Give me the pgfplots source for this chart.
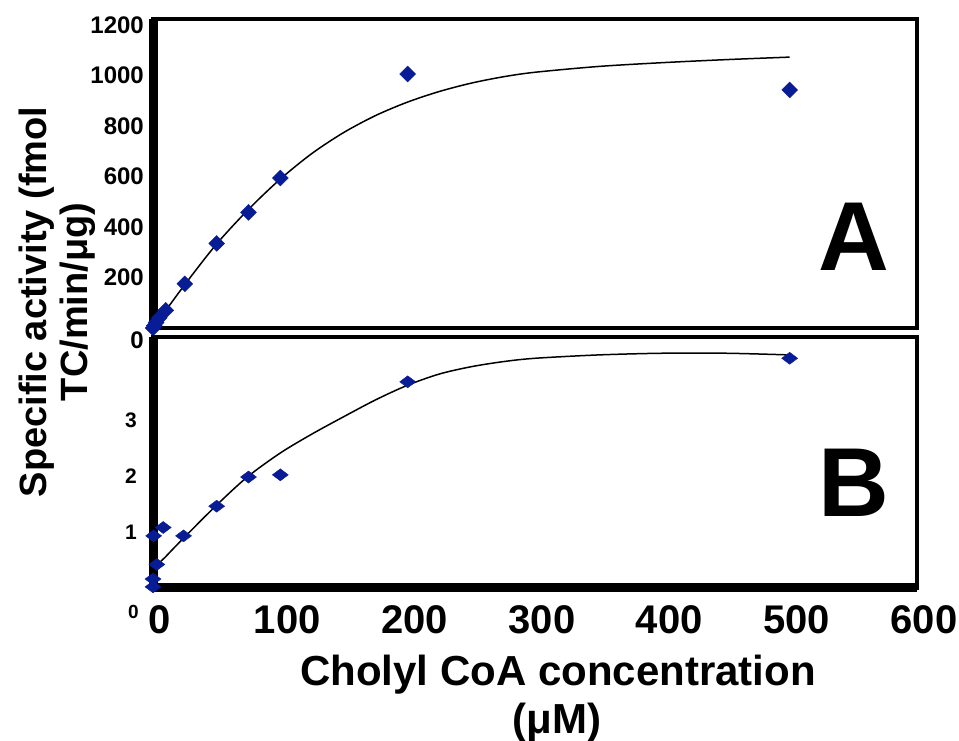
\documentclass[border=0pt]{standalone}
\usepackage{fontspec}
\setmainfont{Liberation Sans}
\usepackage{pgfplots}
\pgfplotsset{compat=1.18}
\definecolor{markblue}{RGB}{8,28,150}

\pgfplotsset{
  panel/.style={
    anchor=south west, scale only axis, width=764pt,
    xmin=0, xmax=600, ymin=0, clip=false,
    axis line style={line width=4.5pt},
    major tick length=0pt,
  },
  pts/.style={only marks, mark=square*, mark size=5.6pt,
    mark options={rotate=45, draw=markblue, fill=markblue}},
  fit/.style={black, line width=1.5pt, smooth, no marks},
}

\begin{document}
\begin{tikzpicture}[x=1pt,y=1pt]
\path[use as bounding box] (0,0) rectangle (959,741);

% panel A
\begin{axis}[panel,
  at={(153pt,413pt)}, height=309pt, ymax=1224,
  xtick=\empty,
  ytick={200,400,600,800,1000,1200},
  yticklabels={200,400,600,800,1000,1200},
  yticklabel style={font=\fontsize{24}{24}\selectfont\bfseries, inner sep=0pt, xshift=-9pt},
  extra y ticks={0}, extra y tick labels={0},
  extra y tick style={yticklabel style={yshift=-12pt}},
]
\draw[line width=9pt] (rel axis cs:0,0) -- (rel axis cs:0,1);
\addplot[fit] coordinates {(0,0) (25,172) (50,333) (75,470) (100,590) (125,692) (150,775)
  (175,842) (200,895) (225,937) (250,970) (275,995) (300,1013) (350,1036) (400,1051)
  (450,1063) (500,1073)};
\addplot[pts] coordinates {(0,0) (1,10) (2.5,22) (5,40) (10,70) (25,175) (50,335)
  (75,458) (100,594) (200,1006) (500,943)};
\end{axis}

% panel B
\begin{axis}[panel,
  at={(153pt,153pt)}, height=251pt, ymax=4.48,
  xtick={0,100,200,300,400,500,600},
  xticklabels={0,100,200,300,400,500,600},
  xticklabel style={font=\fontsize{40}{40}\selectfont\bfseries, inner sep=0pt, anchor=north, yshift=-17pt, xshift=7pt},
  ytick={1,2,3}, yticklabels={1,2,3},
  yticklabel style={font=\fontsize{21}{21}\selectfont\bfseries, inner sep=0pt, xshift=-16pt},
  extra y ticks={0}, extra y tick labels={0},
  extra y tick style={yticklabel style={yshift=-24pt, xshift=2pt, font=\fontsize{19}{19}\selectfont\bfseries}},
]
\draw[line width=9pt] (rel axis cs:0,0) -- (rel axis cs:0,1);
\draw[line width=9pt] (rel axis cs:0,0) -- (rel axis cs:1,0);
\addplot[fit] coordinates {(0,0) (3,0.38) (10,0.56) (24,0.89) (50,1.48) (74,1.98) (100,2.41)
  (125,2.75) (150,3.06) (175,3.36) (200,3.62) (225,3.82) (250,3.95) (275,4.04) (300,4.1)
  (350,4.16) (400,4.19) (450,4.19) (500,4.16)};
\addplot[pts, mark=diamond*, mark size=8pt, mark options={rotate=90, draw=markblue, fill=markblue}]
  coordinates {(0,0.02) (0,0.16) (0.5,0.93) (3,0.42) (8,1.08) (24,0.93) (50,1.46)
  (75,1.98) (100,2.02) (200,3.68) (500,4.10)};
\end{axis}

\node at (854,504) {\fontsize{98}{98}\selectfont\bfseries A};
\node at (854,258) {\fontsize{98}{98}\selectfont\bfseries B};
\node[anchor=base] at (558,55) {\fontsize{42}{42}\selectfont\bfseries Cholyl CoA concentration};
\node[anchor=base] at (557,7) {\fontsize{42}{42}\selectfont\bfseries (μM)};
\node[rotate=90, anchor=base] at (46,439) {\fontsize{38}{38}\selectfont\bfseries Specific activity (fmol};
\node[rotate=90, anchor=base] at (87,439) {\fontsize{38}{38}\selectfont\bfseries TC/min/μg)};
\end{tikzpicture}
\end{document}
